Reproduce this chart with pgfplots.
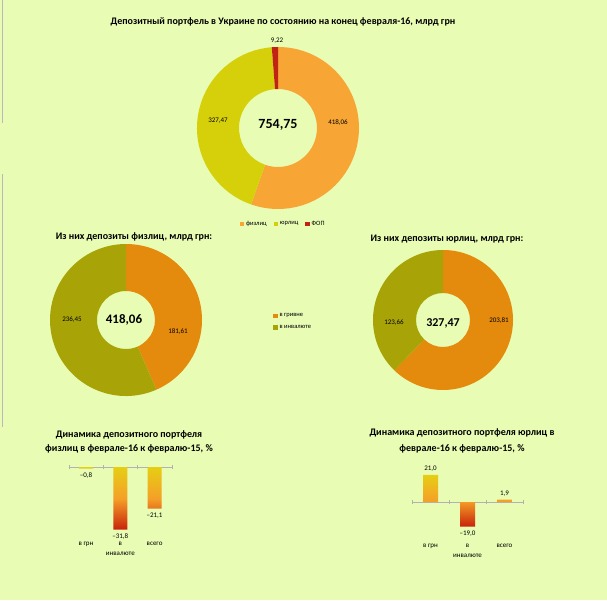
\documentclass[border=0pt]{standalone}
\usepackage{fontspec}
\setmainfont{Carlito}
\usepackage{pgfplots}
\usepackage{pgfplotstable}
\pgfplotsset{compat=1.18}

\definecolor{bg}{RGB}{232,252,180}
\definecolor{fizC}{RGB}{247,165,53}
\definecolor{yurC}{RGB}{214,208,10}
\definecolor{fopC}{RGB}{192,35,20}
\definecolor{uahC}{RGB}{228,138,12}
\definecolor{fxC}{RGB}{168,164,8}
\definecolor{barY}{RGB}{230,206,20}
\definecolor{barO}{RGB}{245,160,40}
\definecolor{barR}{RGB}{200,35,10}

\pgfplotstableread{
x y lbl
0 -0.8 {–0,8}
1 -31.8 {–31,8}
2 -21.1 {–21,1}
}\fizdata
\pgfplotstableread{
x y lbl
0 21.0 {21,0}
1 -19.0 {–19,0}
2 1.9 {1,9}
}\yurdata

% donut segments: #1 outer R, #2 inner r, #3 total, #4 list value/colour
\newcommand\donutsegs[4]{%
  \xdef\curang{90}%
  \foreach \v/\col in {#4} {%
    \pgfmathsetmacro\endang{\curang - (\v/#3)*360}%
    \fill[\col] (axis cs:{#1*cos(\curang)},{#1*sin(\curang)})
       arc[start angle=\curang, end angle=\endang, radius=#1pt]
       -- (axis cs:{#2*cos(\endang)},{#2*sin(\endang)})
       arc[start angle=\endang, end angle=\curang, radius=#2pt] -- cycle;
    \global\let\curang\endang
  }%
}

\pgfplotsset{
  donut/.style={anchor=origin, hide axis, x=1pt, y=1pt, clip=false,
    legend image code/.code={\path[draw=none,##1] (0pt,-2.2pt) rectangle (4.4pt,2.2pt);},
    legend style={draw=none, fill=none, font=\fontsize{6.5}{7}\selectfont}},
  dyn/.style={anchor=origin, xmin=-0.5, xmax=2.5, enlargelimits=false,
    axis x line=middle, axis y line=none, axis line style={gray!60, -},
    xtick={0,1,2}, major tick length=0pt,
    xticklabel style={align=center, anchor=north, font=\fontsize{7}{10}\selectfont},
    extra x ticks={-0.5,0.5,1.5,2.5}, extra x tick labels={},
    extra x tick style={major tick length=4pt, tick align=center},
    tick style={gray!60, thin},
    ybar, clip=false, point meta=explicit symbolic, nodes near coords,
    nodes near coords style={font=\fontsize{7}{8}\selectfont,
      yshift={(\yv<0)*(-13)}}},
  gradbar/.style={draw=none, top color=barY, bottom color=barR, middle color=barO,
    visualization depends on={\thisrow{y} \as \yv}},
}

\begin{document}
\begin{tikzpicture}[x=1pt,y=1pt]
\fill[bg] (0,0) rectangle (607,600);
\useasboundingbox (0,0) rectangle (607,600);
\draw[gray!55, line width=0.8pt] (2.5,600) -- (2.5,477);
\draw[gray!55, line width=0.8pt] (2.5,426) -- (2.5,173);

\node[font=\bfseries\fontsize{10}{12}\selectfont] at (283,578) {Депозитный портфель в Украине по состоянию на конец февраля-16, млрд грн};
\node[font=\bfseries\fontsize{10}{12}\selectfont] at (134,363) {Из них депозиты физлиц, млрд грн:};
\node[font=\bfseries\fontsize{10}{12}\selectfont] at (447,361) {Из них депозиты юрлиц, млрд грн:};
\node[font=\bfseries\fontsize{10}{14.5}\selectfont, align=center] at (129,158) {Динамика депозитного портфеля\\физлиц в феврале-16 к февралю-15, \%};
\node[font=\bfseries\fontsize{10}{16}\selectfont, align=center] at (462,159) {Динамика депозитного портфеля юрлиц в\\феврале-16 к февралю-15, \%};

% total donut
\begin{axis}[donut, at={(278pt,472pt)}, xmin=-85, xmax=85, ymin=-85, ymax=85,
  legend columns=3, legend style={at={(0.53,-0.065)}, anchor=center,
  /tikz/every even column/.append style={column sep=5pt}}]
  \addlegendimage{fill=fizC}\addlegendentry{физлиц}
  \addlegendimage{fill=yurC}\addlegendentry{юрлиц}
  \addlegendimage{fill=fopC}\addlegendentry{ФОП}
  \pgfplotsextra{\donutsegs{81}{39}{754.75}{418.06/fizC, 327.47/yurC, 9.22/fopC}}
  \node[font=\fontsize{7}{8}\selectfont] at (axis cs:-1,87) {9,22};
  \node[font=\fontsize{7}{8}\selectfont] at (axis cs:-60,7) {327,47};
  \node[font=\fontsize{7}{8}\selectfont] at (axis cs:60,5) {418,06};
  \node[font=\bfseries\fontsize{14}{16}\selectfont] at (axis cs:0,3) {754,75};
\end{axis}

% individuals donut
\begin{axis}[donut, at={(126pt,280pt)}, xmin=-80, xmax=80, ymin=-80, ymax=80,
  legend style={at={(1.40,0.49)}, anchor=west, row sep=3pt}, legend cell align=left]
  \addlegendimage{fill=uahC}\addlegendentry{в гривне}
  \addlegendimage{fill=fxC}\addlegendentry{в инвалюте}
  \pgfplotsextra{\donutsegs{76}{29}{418.06}{181.61/uahC, 236.45/fxC}}
  \node[font=\fontsize{7}{8}\selectfont] at (axis cs:-54,0) {236,45};
  \node[font=\fontsize{7}{8}\selectfont] at (axis cs:52,-12) {181,61};
  \node[font=\bfseries\fontsize{13}{15}\selectfont] at (axis cs:-2,0) {418,06};
\end{axis}

% legal entities donut
\begin{axis}[donut, at={(443pt,280pt)}, xmin=-75, xmax=75, ymin=-75, ymax=75]
  \pgfplotsextra{\donutsegs{70}{27}{327.47}{203.81/uahC, 123.66/fxC}}
  \node[font=\fontsize{7}{8}\selectfont] at (axis cs:-49,-3) {123,66};
  \node[font=\fontsize{7}{8}\selectfont] at (axis cs:56,-1) {203,81};
  \node[font=\bfseries\fontsize{12}{14}\selectfont] at (axis cs:0,-3) {327,47};
\end{axis}

% dynamics individuals
\begin{axis}[dyn, at={(86pt,133pt)}, x=34.3pt, y=1.97pt, ymin=-34, ymax=2,
  bar width=14pt, xticklabels={в грн, в\\инвалюте, всего},
  xticklabel style={yshift=-72pt}]
  \addplot[gradbar] table[x=x, y=y, meta=lbl] {\fizdata};
\end{axis}

% dynamics legal entities
\begin{axis}[dyn, at={(430.5pt,98pt)}, x=37pt, y=1.29pt, ymin=-22, ymax=23,
  bar width=15pt, xticklabels={в грн, в\\инвалюте, всего},
  xticklabel style={yshift=-39pt}]
  \addplot[gradbar] table[x=x, y=y, meta=lbl] {\yurdata};
\end{axis}
\end{tikzpicture}
\end{document}
